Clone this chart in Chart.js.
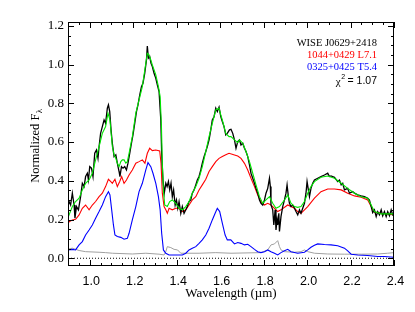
<!DOCTYPE html>
<html>
<head>
<meta charset="utf-8">
<script src="https://cdn.jsdelivr.net/npm/chart.js@4.4.1/dist/chart.umd.min.js"></script>
<style>
  html, body { margin: 0; padding: 0; background: #fff; }
  #wrap { width: 415px; height: 312px; position: relative; }
</style>
</head>
<body>
<div id="wrap"><canvas id="c"></canvas></div>
<script>
// Ticks
const xTicks = [1.0, 1.2, 1.4, 1.6, 1.8, 2.0, 2.2, 2.4];
const yTicks = [0.0, 0.2, 0.4, 0.6, 0.8, 1.0, 1.2];

// WISE J0629+2418 (negro)
const wiseWave = [0.900,0.905,0.912,0.920,0.928,0.932,0.939,0.948,0.958,0.966,0.974,0.981,0.989,0.994,1.000,1.008,1.015,1.023,1.031,1.038,1.043,1.050,1.058,1.066,1.073,1.081,1.086,1.092,1.098,1.104,1.112,1.120,1.127,1.135,1.139,1.146,1.153,1.161,1.169,1.176,1.184,1.192,1.199,1.207,1.215,1.222,1.230,1.238,1.245,1.253,1.261,1.265,1.270,1.276,1.282,1.288,1.296,1.304,1.311,1.319,1.327,1.331,1.337,1.343,1.350,1.356,1.362,1.368,1.374,1.380,1.386,1.393,1.399,1.405,1.411,1.419,1.426,1.434,1.442,1.449,1.457,1.465,1.472,1.480,1.488,1.495,1.503,1.511,1.518,1.526,1.534,1.541,1.549,1.557,1.564,1.572,1.580,1.587,1.595,1.603,1.610,1.618,1.626,1.633,1.643,1.650,1.658,1.666,1.673,1.681,1.689,1.696,1.704,1.712,1.719,1.727,1.735,1.742,1.750,1.758,1.765,1.773,1.781,1.788,1.796,1.804,1.811,1.819,1.827,1.831,1.834,1.842,1.847,1.853,1.857,1.862,1.865,1.870,1.873,1.880,1.888,1.896,1.903,1.908,1.914,1.919,1.926,1.934,1.942,1.949,1.957,1.965,1.972,1.980,1.988,1.995,2.000,2.006,2.011,2.018,2.026,2.034,2.049,2.064,2.080,2.095,2.103,2.110,2.126,2.141,2.149,2.157,2.164,2.172,2.187,2.195,2.210,2.218,2.233,2.249,2.264,2.279,2.287,2.295,2.302,2.310,2.318,2.325,2.333,2.341,2.348,2.356,2.364,2.371,2.379,2.387,2.394,2.400];
const wiseFlux = [0.270,0.293,0.275,0.336,0.275,0.207,0.267,0.250,0.318,0.387,0.370,0.422,0.439,0.404,0.473,0.465,0.422,0.542,0.559,0.516,0.577,0.645,0.680,0.714,0.697,0.775,0.792,0.757,0.663,0.594,0.525,0.534,0.491,0.448,0.422,0.473,0.465,0.473,0.456,0.491,0.542,0.594,0.637,0.697,0.757,0.792,0.843,0.886,0.904,0.955,1.024,1.096,1.033,1.041,1.007,0.990,0.955,0.929,0.895,0.861,0.714,0.542,0.404,0.336,0.387,0.370,0.396,0.353,0.387,0.318,0.353,0.275,0.301,0.258,0.293,0.232,0.267,0.232,0.250,0.267,0.293,0.301,0.336,0.353,0.379,0.404,0.422,0.456,0.491,0.525,0.551,0.577,0.611,0.663,0.714,0.731,0.775,0.757,0.780,0.731,0.706,0.680,0.637,0.645,0.663,0.666,0.645,0.611,0.568,0.602,0.611,0.585,0.594,0.568,0.551,0.525,0.482,0.439,0.413,0.387,0.361,0.336,0.301,0.284,0.275,0.301,0.336,0.361,0.413,0.370,0.275,0.250,0.172,0.250,0.146,0.198,0.172,0.232,0.138,0.215,0.267,0.301,0.336,0.379,0.318,0.284,0.267,0.275,0.258,0.241,0.224,0.250,0.232,0.258,0.284,0.336,0.396,0.353,0.318,0.361,0.387,0.404,0.413,0.422,0.430,0.439,0.422,0.425,0.418,0.396,0.404,0.379,0.387,0.353,0.361,0.336,0.344,0.336,0.327,0.322,0.318,0.310,0.301,0.267,0.236,0.250,0.215,0.241,0.224,0.250,0.219,0.241,0.215,0.241,0.219,0.250,0.224,0.230];

// Mezcla L7.1 + T5.4 (verde)
const compWave = [0.900,0.905,0.920,0.935,0.951,0.966,0.981,0.997,1.012,1.027,1.043,1.058,1.073,1.084,1.093,1.104,1.112,1.120,1.127,1.135,1.143,1.150,1.158,1.166,1.173,1.181,1.196,1.212,1.227,1.242,1.258,1.265,1.273,1.281,1.288,1.304,1.316,1.324,1.330,1.334,1.339,1.345,1.357,1.368,1.380,1.396,1.411,1.426,1.442,1.457,1.472,1.488,1.503,1.518,1.534,1.549,1.564,1.580,1.595,1.603,1.610,1.626,1.641,1.650,1.666,1.681,1.689,1.704,1.719,1.735,1.750,1.765,1.781,1.796,1.811,1.827,1.842,1.857,1.873,1.896,1.911,1.926,1.942,1.957,1.972,1.988,2.003,2.018,2.034,2.064,2.095,2.126,2.157,2.187,2.218,2.249,2.279,2.295,2.310,2.341,2.371,2.400];
const compFlux = [0.210,0.224,0.267,0.293,0.310,0.353,0.387,0.404,0.439,0.508,0.577,0.645,0.680,0.749,0.714,0.577,0.534,0.516,0.491,0.473,0.499,0.508,0.508,0.491,0.499,0.542,0.628,0.749,0.818,0.886,1.007,1.058,1.050,1.024,0.998,0.947,0.886,0.835,0.680,0.491,0.353,0.275,0.267,0.293,0.301,0.284,0.258,0.250,0.267,0.293,0.336,0.370,0.413,0.473,0.551,0.628,0.697,0.766,0.775,0.740,0.714,0.645,0.628,0.628,0.611,0.597,0.611,0.594,0.551,0.499,0.439,0.379,0.318,0.284,0.301,0.318,0.284,0.258,0.267,0.301,0.327,0.284,0.267,0.263,0.267,0.293,0.336,0.370,0.396,0.418,0.425,0.413,0.387,0.361,0.336,0.318,0.310,0.275,0.241,0.229,0.229,0.229];

// 1044+0429 L7.1 (rojo)
const l7Wave = [0.900,0.905,0.920,0.935,0.951,0.966,0.981,0.997,1.012,1.027,1.043,1.058,1.073,1.086,1.097,1.104,1.116,1.127,1.138,1.147,1.158,1.169,1.181,1.196,1.212,1.227,1.242,1.254,1.265,1.276,1.288,1.304,1.322,1.328,1.334,1.342,1.350,1.357,1.365,1.380,1.396,1.411,1.426,1.442,1.457,1.472,1.488,1.503,1.518,1.534,1.549,1.564,1.580,1.595,1.610,1.626,1.641,1.666,1.681,1.696,1.712,1.727,1.742,1.758,1.773,1.788,1.804,1.819,1.834,1.850,1.865,1.880,1.911,1.942,1.957,1.972,1.988,2.003,2.034,2.064,2.095,2.126,2.157,2.187,2.218,2.249,2.279,2.295,2.310,2.341,2.371,2.400];
const l7Flux = [0.178,0.189,0.198,0.201,0.224,0.258,0.275,0.250,0.275,0.293,0.318,0.336,0.370,0.408,0.396,0.387,0.408,0.370,0.396,0.422,0.387,0.404,0.430,0.456,0.491,0.499,0.508,0.491,0.542,0.568,0.556,0.559,0.554,0.491,0.336,0.267,0.250,0.232,0.258,0.250,0.258,0.258,0.241,0.250,0.275,0.301,0.318,0.353,0.379,0.408,0.448,0.473,0.499,0.516,0.525,0.534,0.542,0.533,0.528,0.516,0.490,0.456,0.413,0.370,0.327,0.292,0.275,0.284,0.275,0.258,0.241,0.250,0.275,0.258,0.241,0.232,0.250,0.267,0.310,0.344,0.358,0.358,0.353,0.336,0.322,0.315,0.301,0.267,0.238,0.232,0.229,0.224];

// 0325+0425 T5.4 (azul)
const t5Wave = [0.900,0.920,0.935,0.951,0.966,0.981,0.997,1.012,1.027,1.043,1.058,1.073,1.086,1.093,1.101,1.109,1.116,1.127,1.143,1.158,1.173,1.181,1.196,1.212,1.227,1.242,1.258,1.268,1.281,1.291,1.304,1.316,1.324,1.331,1.339,1.350,1.365,1.396,1.426,1.442,1.457,1.472,1.488,1.503,1.518,1.534,1.549,1.564,1.577,1.587,1.598,1.610,1.623,1.633,1.649,1.666,1.681,1.696,1.712,1.727,1.742,1.758,1.773,1.788,1.804,1.819,1.834,1.850,1.865,1.880,1.896,1.911,1.926,1.957,1.988,2.003,2.018,2.034,2.049,2.080,2.110,2.141,2.172,2.187,2.203,2.233,2.279,2.325,2.356,2.400];
const t5Flux = [0.043,0.046,0.043,0.069,0.086,0.120,0.146,0.172,0.207,0.241,0.275,0.318,0.344,0.327,0.250,0.172,0.120,0.112,0.108,0.098,0.103,0.129,0.198,0.267,0.344,0.387,0.456,0.494,0.473,0.439,0.387,0.318,0.250,0.129,0.043,0.026,0.017,0.017,0.017,0.026,0.043,0.052,0.060,0.077,0.095,0.120,0.155,0.198,0.232,0.258,0.241,0.181,0.120,0.095,0.095,0.074,0.081,0.077,0.069,0.072,0.060,0.046,0.034,0.029,0.034,0.043,0.034,0.026,0.017,0.029,0.039,0.046,0.034,0.026,0.031,0.043,0.057,0.067,0.074,0.071,0.069,0.065,0.052,0.038,0.021,0.017,0.014,0.009,0.009,0.005];

// Ruido (gris)
const noiseWave = [0.900,0.920,0.951,0.981,1.043,1.073,1.104,1.196,1.258,1.319,1.342,1.350,1.357,1.373,1.388,1.404,1.419,1.503,1.580,1.650,1.788,1.819,1.834,1.850,1.865,1.873,1.880,1.896,1.942,1.972,1.988,2.003,2.034,2.095,2.172,2.249,2.325,2.371,2.400];
const noiseFlux = [0.047,0.052,0.040,0.034,0.031,0.029,0.026,0.022,0.026,0.021,0.017,0.034,0.060,0.055,0.046,0.043,0.026,0.026,0.029,0.026,0.029,0.043,0.069,0.074,0.091,0.060,0.043,0.034,0.031,0.034,0.043,0.034,0.026,0.022,0.021,0.021,0.022,0.026,0.029];

const zeroLine = [0, 0];
const zeroWave = [0.9, 2.4];

const legendLines = [
  { text: 'WISE J0629+2418', color: '#000000' },
  { text: '1044+0429 L7.1', color: '#ff0000' },
  { text: '0325+0425 T5.4', color: '#0000ff' }
];
const chiValue = '1.07';
const xTitle = 'Wavelength (µm)';

function pts(w, f) { return w.map((x, i) => ({ x: x, y: f[i] })); }

const SERIF = '"Liberation Serif", "DejaVu Serif", serif';
const SANS = '"Liberation Sans", Arial, sans-serif';

// Marco con marcas hacia dentro, etiquetas X, títulos y leyenda
const framePlugin = {
  id: 'frame',
  afterDraw(chart) {
    const { ctx, chartArea: a, scales: { x, y } } = chart;
    ctx.save();
    ctx.strokeStyle = '#000';
    ctx.lineWidth = 1;
    ctx.strokeRect(a.left + 0.5, a.top + 0.5, a.right - a.left - 1, a.bottom - a.top - 1);
    ctx.beginPath();
    for (let v = 0.9; v <= 2.4001; v += 0.05) {
      const px = Math.round(x.getPixelForValue(v)) + 0.5;
      const major = xTicks.some(t => Math.abs(t - v) < 1e-6);
      const len = major ? 6 : 3;
      ctx.moveTo(px, a.bottom); ctx.lineTo(px, a.bottom - len);
      ctx.moveTo(px, a.top); ctx.lineTo(px, a.top + len);
    }
    for (let v = 0; v <= 1.2001; v += 0.05) {
      const py = Math.round(y.getPixelForValue(v)) + 0.5;
      const major = yTicks.some(t => Math.abs(t - v) < 1e-6);
      const len = major ? 6 : 3;
      ctx.moveTo(a.left, py); ctx.lineTo(a.left + len, py);
      ctx.moveTo(a.right, py); ctx.lineTo(a.right - len, py);
    }
    ctx.stroke();

    // Etiquetas y título del eje X
    ctx.fillStyle = '#000';
    ctx.textAlign = 'center';
    ctx.textBaseline = 'middle';
    ctx.font = '12.5px ' + SANS;
    xTicks.forEach(v => ctx.fillText(v.toFixed(1), x.getPixelForValue(v) + 1.5, a.bottom + 16));
    ctx.font = '13px ' + SERIF;
    ctx.fillText(xTitle, (a.left + a.right) / 2, a.bottom + 28);

    // Título del eje Y
    ctx.translate(36, 146);
    ctx.rotate(-Math.PI / 2);
    ctx.textAlign = 'left';
    ctx.font = '12.5px ' + SERIF;
    const w1 = ctx.measureText('Normalized F').width;
    ctx.font = '9px ' + SERIF;
    const w2 = ctx.measureText('λ').width;
    const x0 = -(w1 + w2) / 2;
    ctx.font = '12.5px ' + SERIF;
    ctx.fillText('Normalized F', x0, 0);
    ctx.font = '9px ' + SERIF;
    ctx.fillText('λ', x0 + w1 + 0.5, 4);
    ctx.restore();

    // Leyenda
    ctx.save();
    ctx.textBaseline = 'middle';
    ctx.textAlign = 'right';
    ctx.font = '10.5px ' + SERIF;
    legendLines.forEach((l, i) => {
      ctx.fillStyle = l.color;
      ctx.fillText(l.text, 377, 43 + i * 12);
    });
    ctx.fillStyle = '#000';
    ctx.textAlign = 'left';
    ctx.font = '10.5px ' + SANS;
    const rest = ' = ' + chiValue;
    const wr = ctx.measureText(rest).width;
    ctx.font = '7px ' + SANS;
    const ws = ctx.measureText('2').width;
    ctx.font = '11px ' + SERIF;
    const wc = ctx.measureText('χ').width;
    let xs = 377 - wr - ws - wc;
    ctx.fillText('χ', xs, 82);
    ctx.font = '7px ' + SANS;
    ctx.fillText('2', xs + wc + 0.5, 77);
    ctx.font = '10.5px ' + SANS;
    ctx.fillText(rest, xs + wc + ws, 81);
    ctx.restore();
  }
};

const line = (data, color, width) => ({
  data: data, borderColor: color, borderWidth: width, pointRadius: 0,
  tension: 0, fill: false
});

new Chart(document.getElementById('c'), {
  type: 'line',
  data: {
    datasets: [
      line(pts(compWave, compFlux), '#00e600', 1.1),
      line(pts(wiseWave, wiseFlux), '#000000', 1.3),
      line(pts(l7Wave, l7Flux), '#ff0000', 1.1),
      line(pts(t5Wave, t5Flux), '#0000ff', 1.1),
      line(pts(noiseWave, noiseFlux), '#a0a0a0', 1),
      Object.assign(line(pts(zeroWave, zeroLine), '#000000', 1), { borderDash: [1, 2] })
    ]
  },
  options: {
    responsive: true,
    maintainAspectRatio: false,
    animation: false,
    layout: { padding: { left: 0, right: 21, top: 22, bottom: 0 } },
    plugins: { legend: { display: false }, tooltip: { enabled: false } },
    scales: {
      x: {
        type: 'linear', min: 0.9, max: 2.4,
        grid: { display: false, drawTicks: false },
        border: { display: false },
        afterBuildTicks: s => { s.ticks = xTicks.map(v => ({ value: v })); },
        afterFit: s => { s.height = 46; },
        ticks: { display: false }
      },
      y: {
        type: 'linear', min: -0.04, max: 1.22,
        grid: { display: false, drawTicks: false },
        border: { display: false },
        afterBuildTicks: s => { s.ticks = yTicks.map(v => ({ value: v })); },
        afterFit: s => { s.width = 68; },
        ticks: {
          autoSkip: false, padding: 4, color: '#000',
          font: { family: SERIF, size: 13 },
          callback: v => Number(v).toFixed(1)
        }
      }
    }
  },
  plugins: [framePlugin]
});
</script>
</body>
</html>
